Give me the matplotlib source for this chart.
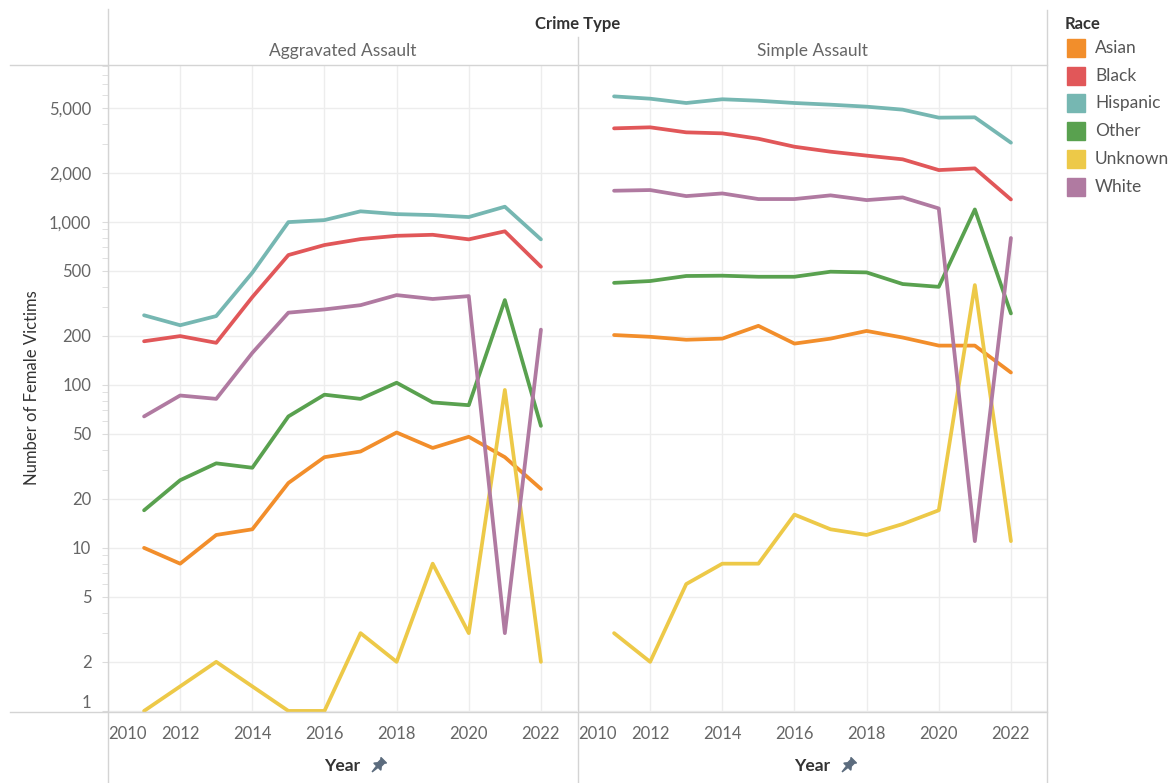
import matplotlib
matplotlib.use("Agg")
import matplotlib.pyplot as plt
import matplotlib.ticker as mticker
from matplotlib.lines import Line2D
from matplotlib.patches import Rectangle, Polygon
import numpy as np

plt.rcParams['font.family'] = ['Lato', 'DejaVu Sans']

# ---- data ----
years = np.arange(2011, 2023)
crime_types = ['Aggravated Assault', 'Simple Assault']
races = ['Asian', 'Black', 'Hispanic', 'Other', 'Unknown', 'White']
race_colors = ['#f28e2b', '#e15759', '#76b7b2', '#59a14f', '#edc948', '#b07aa1']

nan = np.nan
agg_asian = [10, 8, 12, 13, 25, 36, 39, 51, 41, 48, 36, 23]
agg_black = [185, 199, 181, 345, 625, 720, 783, 820, 832, 780, 874, 530]
agg_hispanic = [267, 232, 264, 487, 995, 1024, 1159, 1114, 1099, 1069, 1237, 780]
agg_other = [17, 26, 33, 31, 64, 87, 82, 103, 78, 75, 331, 56]
agg_unknown = [1, nan, 2, nan, 1, 1, 3, 2, 8, 3, 93, 2]
agg_white = [64, 86, 82, 157, 277, 290, 308, 355, 336, 350, 3, 218]

simple_asian = [202, 197, 189, 192, 230, 179, 192, 214, 195, 174, 174, 119]
simple_black = [3740, 3795, 3535, 3485, 3230, 2885, 2690, 2545, 2415, 2075, 2125, 1370]
simple_hispanic = [5875, 5685, 5350, 5640, 5525, 5350, 5225, 5080, 4870, 4350, 4370, 3055]
simple_other = [422, 433, 465, 467, 460, 460, 494, 489, 415, 399, 1190, 274]
simple_unknown = [3, 2, 6, 8, 8, 16, 13, 12, 14, 17, 409, 11]
simple_white = [1550, 1565, 1437, 1492, 1378, 1378, 1452, 1358, 1410, 1207, 11, 795]

panels = [
    [agg_asian, agg_black, agg_hispanic, agg_other, agg_unknown, agg_white],
    [simple_asian, simple_black, simple_hispanic, simple_other, simple_unknown, simple_white],
]

y_ticks = [1, 2, 5, 10, 20, 50, 100, 200, 500, 1000, 2000, 5000]
x_ticks = [2010, 2012, 2014, 2016, 2018, 2020, 2022]

# ---- layout (pixels) ----
W, H = 1172, 783
fig = plt.figure(figsize=(W / 100, H / 100), dpi=100)


def fx(px):
    return px / W


def fy(py):
    return 1 - py / H


top, bottom = 65, 712
lefts = [108, 578]
rights = [577, 1047]
grid_c = '#ededed'
line_c = '#d4d4d4'
text_c = '#666666'

axes = []
for i, (l, r) in enumerate(zip(lefts, rights)):
    ax = fig.add_axes([fx(l), fy(bottom), fx(r - l), (bottom - top) / H])
    ax.set_yscale('log')
    ax.set_ylim(0.985, 9150)
    ax.set_xlim(2010, 2023)
    for s in ax.spines.values():
        s.set_visible(False)
    ax.set_axisbelow(True)
    ax.set_xticks(x_ticks)
    ax.set_xticklabels([str(t) for t in x_ticks])
    ax.xaxis.set_minor_locator(mticker.NullLocator())
    ax.set_yticks(y_ticks)
    ax.grid(True, which='major', color=grid_c, lw=1)
    ax.tick_params(axis='x', length=0, pad=10, labelsize=12, labelcolor=text_c)
    if i == 0:
        ax.set_yticklabels([f'{t:,}' for t in y_ticks])
        ax.yaxis.set_minor_locator(mticker.LogLocator(base=10, subs=np.arange(2, 10)))
        ax.yaxis.set_minor_formatter(mticker.NullFormatter())
        ax.tick_params(axis='y', which='both', length=4, color='#dcdcdc',
                       pad=8, labelsize=12, labelcolor=text_c)
        ax.get_yticklabels()[0].set_va('bottom')
    else:
        ax.yaxis.set_minor_locator(mticker.NullLocator())
        ax.tick_params(axis='y', which='both', length=0, labelleft=False)
    ax.get_xticklabels()[0].set_ha('left')

    for vals, c in zip(panels[i], race_colors):
        v = np.array(vals, dtype=float)
        m = ~np.isnan(v)
        ax.plot(years[m], v[m], color=c, lw=2.7, solid_joinstyle='round',
                solid_capstyle='round')
    axes.append(ax)

# ---- frame lines ----
frame = [
    ((10, 1047), (top, top)),
    ((10, 1047), (bottom, bottom)),
    ((108, 108), (9, H)),
    ((578, 578), (37, H)),
    ((1047, 1047), (10, H)),
]
for xs, ys in frame:
    fig.add_artist(Line2D([fx(x) for x in xs], [fy(y) for y in ys],
                          color=line_c, lw=1, transform=fig.transFigure))

# ---- header / labels ----
fig.text(fx(578), fy(24), 'Crime Type', ha='center', va='center',
         fontsize=12, fontweight='bold', color='#333333')
for name, l, r in zip(crime_types, lefts, rights):
    fig.text(fx((l + r) / 2), fy(51), name, ha='center', va='center',
             fontsize=12.5, color=text_c)

fig.text(fx(32), fy(388), 'Number of Female Victims', rotation=90,
         ha='center', va='center', fontsize=12, color='#333333')


def pin(cx, cy):
    pts = [(0, -7), (1, 0.5), (5, 0.5), (2.5, 3.5), (2.5, 8), (4, 9.5),
           (-4, 9.5), (-2.5, 8), (-2.5, 3.5), (-5, 0.5), (-1, 0.5)]
    a = np.deg2rad(-45)
    out = []
    for px, py in pts:
        rx = px * np.cos(a) - py * np.sin(a)
        ry = px * np.sin(a) + py * np.cos(a)
        out.append((fx(cx + rx), fy(cy - ry)))
    fig.add_artist(Polygon(out, closed=True, color='#5b6b7d',
                           transform=fig.transFigure))


for yc, pc in [(342, 377), (812, 847)]:
    fig.text(fx(yc), fy(766), 'Year', ha='center', va='center',
             fontsize=12.5, fontweight='bold', color='#333333')
    pin(pc, 767)

# ---- legend ----
fig.text(fx(1065), fy(24), 'Race', ha='left', va='center',
         fontsize=12, fontweight='bold', color='#333333')
for k, (name, c) in enumerate(zip(races, race_colors)):
    yc = 48 + k * 27.7
    fig.add_artist(Rectangle((fx(1067), fy(yc + 9)), fx(18), 18 / H,
                             color=c, transform=fig.transFigure))
    fig.text(fx(1095), fy(yc), name, ha='left', va='center',
             fontsize=12.5, color='#555555')

fig.savefig('out.png', dpi=100)
